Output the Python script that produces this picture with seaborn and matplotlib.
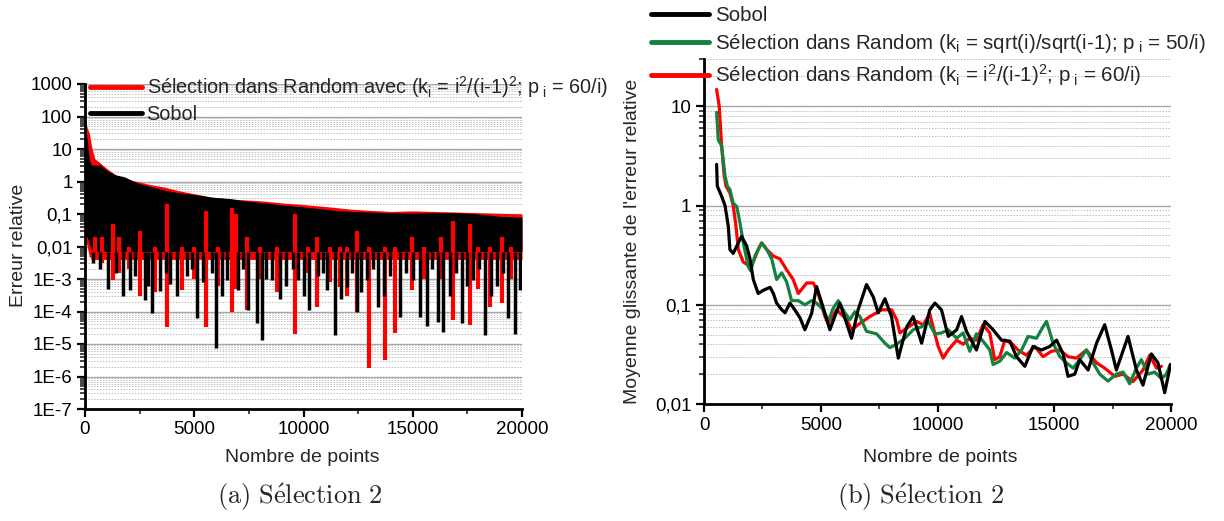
import numpy as np
import pandas as pd
import seaborn as sns
import matplotlib.pyplot as plt
from matplotlib.lines import Line2D
from matplotlib.ticker import MultipleLocator, LogLocator, NullFormatter

env_x = [0, 100, 200, 300, 450, 700, 1000, 1400, 1800, 2400, 3000, 3600, 4300, 5000, 5800,
         6600, 7400, 8200, 9000, 9800, 10600, 11400, 12200, 13000, 14000, 15000, 16000,
         17000, 18000, 19000, 20000]
red_top = [100, 45, 30, 12, 5, 3.7, 2.5, 1.6, 1.2, 1.0, 0.8, 0.68, 0.52, 0.42, 0.33, 0.29,
           0.27, 0.25, 0.22, 0.2, 0.18, 0.16, 0.14, 0.13, 0.12, 0.125, 0.12, 0.115, 0.11,
           0.105, 0.1]
black_top = [78, 19, 4.6, 3.2, 3.2, 3.2, 2.2, 1.6, 1.4, 0.9, 0.7, 0.55, 0.45, 0.4, 0.33, 0.3,
             0.25, 0.22, 0.19, 0.17, 0.15, 0.13, 0.12, 0.115, 0.11, 0.107, 0.11, 0.11, 0.1,
             0.085, 0.08]
red_low = [0.02, 0.01, 0.005, 0.004, 0.004, 0.004, 0.004, 0.004, 0.004, 0.004, 0.004, 0.004,
           0.004, 0.004, 0.004, 0.004, 0.004, 0.004, 0.004, 0.004, 0.004, 0.004, 0.004, 0.004,
           0.004, 0.004, 0.004, 0.004, 0.004, 0.004, 0.004]
black_low = [0.02, 0.02, 0.012, 0.008, 0.007, 0.007, 0.007, 0.007, 0.007, 0.007, 0.007, 0.007,
             0.007, 0.007, 0.007, 0.007, 0.007, 0.007, 0.007, 0.007, 0.007, 0.007, 0.007,
             0.007, 0.007, 0.007, 0.007, 0.007, 0.007, 0.007, 0.007]

red_dip_x = [460, 800, 1300, 1550, 2000, 2520, 3200, 3770, 4430, 5000, 5540, 6100, 6710, 6900,
             7400, 8000, 8800, 9620, 10200, 10600, 11200, 11670, 12000, 12430, 13010, 13730,
             14190, 14950, 15500, 16300, 16860, 17630, 18000, 18540, 19080, 19500]
red_dip_lo = [4.4e-3, 3e-3, 9e-4, 1.5e-3, 2e-3, 2.9e-4, 4e-4, 3.4e-5, 4.6e-4, 1e-3, 3.4e-5,
              6e-4, 1e-4, 5e-4, 1.1e-4, 1e-3, 4e-4, 2e-5, 1.5e-3, 1.4e-4, 8e-4, 5.8e-4, 3e-4,
              9.5e-5, 1.8e-6, 3.2e-6, 2.2e-5, 4.6e-4, 1e-3, 1e-3, 5.5e-5, 3.8e-5, 5e-4, 1.4e-4,
              1.8e-4, 1e-3]
red_dip_hi = [0.02, 0.02, 0.05, 0.02, 0.01, 0.03, 0.01, 0.2, 0.01, 0.01, 0.12, 0.01, 0.15, 0.1,
              0.02, 0.01, 0.01, 0.1, 0.01, 0.02, 0.01, 0.01, 0.01, 0.03, 0.01, 0.01, 0.01, 0.02,
              0.01, 0.02, 0.06, 0.05, 0.01, 0.01, 0.02, 0.01]

black_dip_x = [350, 700, 1070, 1400, 1760, 2060, 2300, 2750, 2900, 3050, 3430, 3700, 3900, 4200,
               4650, 4900, 5110, 5400, 5800, 6000, 6250, 6480, 7000, 7250, 7480, 7860, 8090,
               8300, 8550, 8930, 9200, 9500, 9770, 10000, 10230, 10680, 10900, 11060, 11440,
               11700, 11980, 12200, 12430, 12650, 12900, 13200, 13420, 13700, 13960, 14400,
               14700, 15020, 15320, 15630, 15900, 16160, 16400, 16700, 17000, 17240, 17500,
               17770, 18050, 18300, 18600, 18850, 19150, 19380, 19680, 19910]
black_dip_y = [3e-3, 2e-3, 5e-4, 1.5e-3, 2.9e-4, 4.6e-4, 1.2e-3, 2.2e-4, 6e-4, 8.7e-5, 4.4e-4,
               1.5e-3, 7e-4, 2.9e-4, 1.2e-3, 2e-3, 6.2e-5, 8e-4, 1.5e-3, 7.4e-6, 3e-4, 9e-4,
               4.6e-4, 2e-3, 1.1e-4, 4.4e-5, 1.3e-5, 1e-3, 9e-4, 2.5e-4, 6e-4, 2e-3, 9e-4,
               3e-4, 1.1e-4, 1.2e-3, 1.5e-3, 4.6e-4, 1.9e-5, 2.5e-4, 5.8e-4, 1.5e-3, 1e-4,
               4e-4, 9e-4, 2e-3, 1.4e-4, 3e-4, 1.2e-3, 6.9e-5, 1.5e-3, 9e-4, 6.9e-5, 3.6e-5,
               2e-3, 4.9e-5, 2.4e-5, 3e-4, 1.5e-3, 4.4e-5, 6e-4, 9e-4, 2e-3, 1.9e-5, 3e-4,
               6e-4, 1.5e-3, 6.2e-5, 2e-5, 4.6e-4]

left_yticks = [1e-7, 1e-6, 1e-5, 1e-4, 1e-3, 0.01, 0.1, 1, 10, 100, 1000]
left_ylabels = ["1E-7", "1E-6", "1E-5", "1E-4", "1E-3", "0,01", "0,1", "1", "10", "100", "1000"]

# ---- right panel: moving average of the relative error ----
sob_x = [540, 570, 755, 900, 1040, 1110, 1250, 1470, 1610, 1830, 1970, 2110, 2320, 2540, 2830,
         2970, 3110, 3330, 3470, 3680, 3890, 4110, 4320, 4610, 4820, 5090, 5390, 5820, 6320,
         6600, 6960, 7250, 7460, 7750, 8030, 8320, 8680, 8960, 9320, 9670, 9890, 10170, 10460,
         10820, 11030, 11240, 11670, 12030, 12380, 12740, 13100, 13380, 13740, 14090, 14450,
         14810, 15100, 15380, 15590, 15880, 16090, 16450, 16810, 17160, 17450, 17660, 18160,
         18520, 18800, 19160, 19440, 19730, 19980]
sob_y = [2.6, 1.57, 1.24, 1.0, 0.62, 0.36, 0.33, 0.42, 0.49, 0.39, 0.29, 0.18, 0.13, 0.14, 0.15,
         0.13, 0.104, 0.089, 0.083, 0.104, 0.089, 0.074, 0.056, 0.082, 0.153, 0.096, 0.056,
         0.104, 0.046, 0.089, 0.16, 0.12, 0.083, 0.115, 0.076, 0.029, 0.06, 0.076, 0.041, 0.089,
         0.104, 0.089, 0.048, 0.056, 0.076, 0.054, 0.035, 0.068, 0.056, 0.044, 0.043, 0.03,
         0.024, 0.038, 0.035, 0.038, 0.044, 0.032, 0.019, 0.02, 0.028, 0.022, 0.041, 0.063,
         0.035, 0.022, 0.048, 0.022, 0.0155, 0.032, 0.026, 0.013, 0.025]

green_x = [540, 610, 755, 900, 1000, 1110, 1250, 1400, 1540, 1710, 1900, 2000, 2180, 2470, 2690,
           2900, 3110, 3330, 3540, 3750, 4040, 4320, 4610, 4820, 5110, 5320, 5530, 5750, 6030,
           6250, 6460, 6680, 6960, 7390, 7750, 7960, 8250, 8600, 8960, 9320, 9600, 9890, 10170,
           10460, 10820, 11100, 11380, 11670, 11950, 12240, 12380, 12670, 12960, 13310, 13600,
           13880, 14240, 14520, 14670, 14950, 15240, 15520, 15810, 16090, 16380, 16660, 16950,
           17300, 17660, 17950, 18230, 18520, 18730, 19020, 19300, 19590, 19800, 19970]
green_y = [8.7, 4.6, 4.0, 2.0, 1.57, 1.45, 1.06, 0.98, 0.67, 0.39, 0.24, 0.22, 0.31, 0.42, 0.36,
           0.29, 0.18, 0.21, 0.17, 0.11, 0.11, 0.1, 0.11, 0.104, 0.089, 0.068, 0.092, 0.11,
           0.083, 0.071, 0.085, 0.076, 0.054, 0.051, 0.041, 0.037, 0.04, 0.046, 0.056, 0.06,
           0.068, 0.051, 0.052, 0.056, 0.046, 0.052, 0.034, 0.051, 0.043, 0.035, 0.025, 0.027,
           0.033, 0.029, 0.035, 0.048, 0.046, 0.06, 0.068, 0.041, 0.03, 0.026, 0.023, 0.028,
           0.035, 0.026, 0.02, 0.017, 0.02, 0.021, 0.016, 0.023, 0.028, 0.02, 0.021, 0.018,
           0.02, 0.025]

red_x = [540, 650, 755, 855, 940, 1110, 1250, 1370, 1470, 1680, 1900, 2110, 2320, 2470, 2690,
         2970, 3250, 3540, 3820, 4040, 4400, 4680, 4890, 5180, 5320, 5680, 6110, 6320, 6680,
         7100, 7390, 7610, 8030, 8250, 8390, 8680, 9100, 9390, 9670, 9810, 10030, 10240, 10460,
         10820, 11100, 11380, 11670, 11950, 12240, 12450, 12670, 12880, 13170, 13450, 13810,
         14170, 14520, 14880, 15240, 15590, 15950, 16380, 16810, 17160, 17590, 17950, 18370,
         18800, 19090, 19380, 19590]
red_y = [14.8, 10.1, 4.0, 2.1, 1.57, 1.34, 1.0, 0.62, 0.36, 0.27, 0.25, 0.27, 0.36, 0.42, 0.36,
         0.31, 0.29, 0.225, 0.18, 0.13, 0.166, 0.166, 0.13, 0.076, 0.065, 0.089, 0.071, 0.056,
         0.065, 0.076, 0.083, 0.089, 0.089, 0.071, 0.052, 0.058, 0.068, 0.063, 0.081, 0.06,
         0.038, 0.029, 0.035, 0.044, 0.04, 0.046, 0.044, 0.063, 0.052, 0.028, 0.03, 0.044,
         0.041, 0.035, 0.031, 0.038, 0.03, 0.034, 0.035, 0.03, 0.029, 0.035, 0.026, 0.023,
         0.019, 0.02, 0.0168, 0.022, 0.031, 0.023, 0.024]

right_yticks = [0.01, 0.1, 1, 10]
right_ylabels = ["0,01", "0,1", "1", "10"]
xticks = [0, 5000, 10000, 15000, 20000]

lbl_sobol = "Sobol"
lbl_sqrt = "Sélection dans Random (k$_\\mathregular{i}$ = sqrt(i)/sqrt(i-1); p$_\\mathregular{\\ i}$ = 50/i)"
lbl_sq = "Sélection dans Random (k$_\\mathregular{i}$ = i$^\\mathregular{2}$/(i-1)$^\\mathregular{2}$; p$_\\mathregular{\\ i}$ = 60/i)"
lbl_left = "Sélection dans Random avec (k$_\\mathregular{i}$ = i$^\\mathregular{2}$/(i-1)$^\\mathregular{2}$; p$_\\mathregular{\\ i}$ = 60/i)"

GREEN = "#14823f"

sns.set_style("white")
plt.rcParams['font.family'] = ['Liberation Sans', 'DejaVu Sans']
plt.rcParams['mathtext.fontset'] = 'custom'
plt.rcParams['mathtext.rm'] = 'Liberation Sans'
plt.rcParams['mathtext.it'] = 'Liberation Sans:italic'

fig = plt.figure(figsize=(12.24, 5.21), dpi=100)
W, H = 1224, 521
ax1 = fig.add_axes([85 / W, 1 - 409 / H, 437 / W, 325 / H])
ax2 = fig.add_axes([704 / W, 1 - 404 / H, 467 / W, 345 / H])


def style_axes(ax):
    ax.set_yscale('log')
    for s in ['top', 'right']:
        ax.spines[s].set_visible(False)
    for s in ['left', 'bottom']:
        ax.spines[s].set_color('black')
        ax.spines[s].set_linewidth(2)
    ax.set_xlim(0, 20000)
    ax.set_xticks(xticks)
    ax.set_xticklabels([str(t) for t in xticks])
    ax.xaxis.set_minor_locator(MultipleLocator(2500))
    ax.yaxis.set_minor_locator(LogLocator(base=10, subs=np.arange(2, 10), numticks=30))
    ax.yaxis.set_minor_formatter(NullFormatter())
    ax.tick_params(which='major', direction='out', length=6, width=1.6, labelsize=13.5,
                   colors='black', left=True, bottom=True, pad=3)
    ax.tick_params(which='minor', direction='out', length=3.5, width=1.2, left=True, bottom=True)
    ax.grid(False)
    ax.yaxis.grid(True, which='major', color='#a8a8a8', lw=1.0, ls='-')
    ax.yaxis.grid(True, which='minor', color='#bdbdbd', lw=0.7, ls=(0, (1.5, 1.5)))
    ax.set_axisbelow(True)


# left panel
style_axes(ax1)
ax1.set_ylim(1e-7, 1000)
ax1.set_yticks(left_yticks)
ax1.set_yticklabels(left_ylabels)
ax1.fill_between(env_x, red_low, red_top, color='red', lw=0, zorder=2)
ax1.fill_between(env_x, black_low, black_top, color='black', lw=0, zorder=3)
ax1.vlines(red_dip_x, red_dip_lo, red_dip_hi, color='red', lw=3, zorder=4)
ax1.vlines(black_dip_x, black_dip_y, black_low[-1], color='black', lw=2.5, zorder=5)
ax1.set_xlabel("Nombre de points", fontsize=14)
ax1.set_ylabel("Erreur relative", fontsize=14)
ax1.xaxis.set_label_coords((302 - 85) / 437, (409 - 449) / 325)
ax1.yaxis.set_label_coords((27 - 85) / 437, (409 - 245) / 325)
h_left = [Line2D([], [], color='red', lw=3.5), Line2D([], [], color='black', lw=3.5)]
ax1.legend(h_left, [lbl_left, lbl_sobol], loc='upper left', frameon=False,
           bbox_to_anchor=(90 / W, 1 - 74 / H), bbox_transform=fig.transFigure,
           fontsize=14.3, handlelength=2.6, handletextpad=0.25, borderpad=0,
           borderaxespad=0, labelspacing=0.25)

# right panel
df = pd.concat([
    pd.DataFrame({'x': sob_x, 'y': sob_y, 'serie': lbl_sobol}),
    pd.DataFrame({'x': green_x, 'y': green_y, 'serie': lbl_sqrt}),
    pd.DataFrame({'x': red_x, 'y': red_y, 'serie': lbl_sq}),
])
style_axes(ax2)
sns.lineplot(data=df, x='x', y='y', hue='serie', ax=ax2, estimator=None, sort=False,
             palette={lbl_sobol: 'black', lbl_sqrt: GREEN, lbl_sq: 'red'},
             hue_order=[lbl_sq, lbl_sqrt, lbl_sobol], lw=2.3, legend=False)
ax2.set_ylim(0.01, 30)
ax2.set_yticks(right_yticks)
ax2.set_yticklabels(right_ylabels)
ax2.set_xlabel("Nombre de points", fontsize=14)
ax2.set_ylabel("Moyenne glissante de l'erreur relative", fontsize=14)
ax2.xaxis.set_label_coords((940 - 704) / 467, (404 - 449) / 345)
ax2.yaxis.set_label_coords((641 - 704) / 467, (404 - 241) / 345)
h_right = [Line2D([], [], color='black', lw=3.5), Line2D([], [], color=GREEN, lw=3.5),
           Line2D([], [], color='red', lw=3.5)]
ax2.legend(h_right, [lbl_sobol, lbl_sqrt, lbl_sq], loc='upper left', frameon=False,
           bbox_to_anchor=(651 / W, 1 - 6 / H), bbox_transform=fig.transFigure,
           fontsize=14.8, handlelength=2.8, handletextpad=0.3, borderpad=0,
           borderaxespad=0, labelspacing=0.35)

# captions
fig.text(300 / W, 1 - 497 / H, r"$\mathrm{(a)\ S\acute{e}lection\ 2}$", ha='center', va='center',
         fontsize=19, math_fontfamily='cm')
fig.text(920 / W, 1 - 497 / H, r"$\mathrm{(b)\ S\acute{e}lection\ 2}$", ha='center', va='center',
         fontsize=19, math_fontfamily='cm')

fig.savefig("out.png", dpi=100)
